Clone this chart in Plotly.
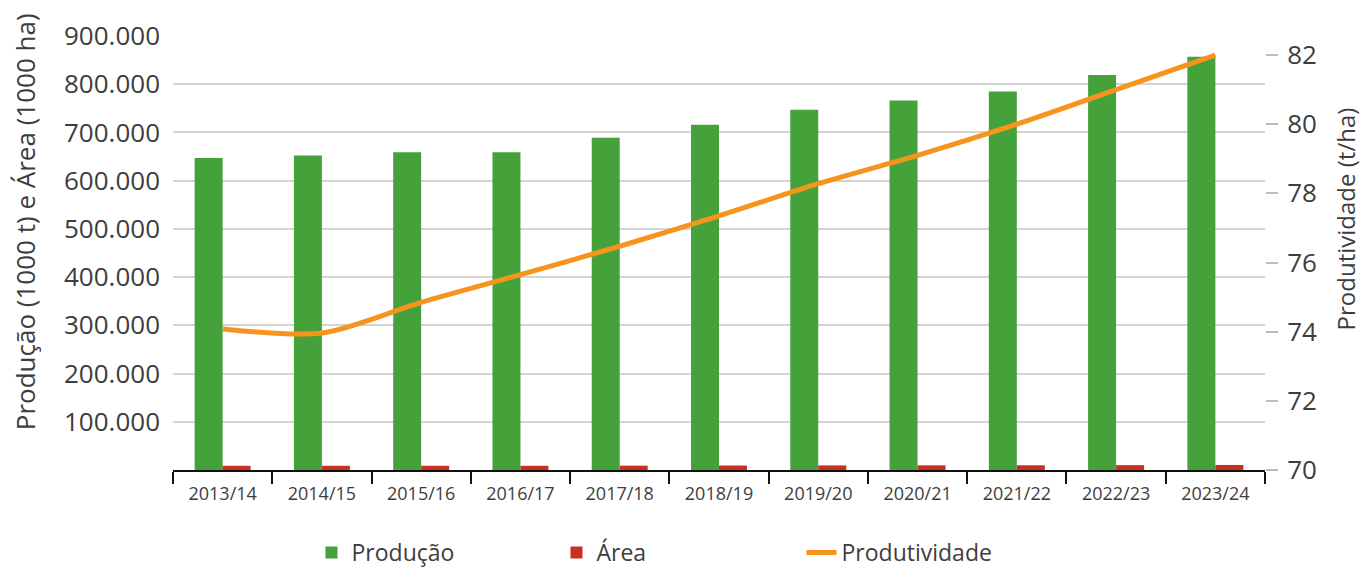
import plotly.graph_objects as go

# Safras
safras = ["2013/14", "2014/15", "2015/16", "2016/17", "2017/18", "2018/19",
          "2019/20", "2020/21", "2021/22", "2022/23", "2023/24"]

# Produção (1000 t)
producao = [647000, 652000, 659000, 659000, 689000, 716000,
            747000, 766000, 785000, 819000, 857000]

# Área (1000 ha)
area = [8730, 8820, 8800, 8710, 9010, 9260, 9540, 9680, 9810, 10110, 10450]

# Produtividade (t/ha)
produtividade = [74.08, 73.96, 74.85, 75.65, 76.47, 77.35,
                 78.28, 79.1, 80.0, 81.0, 82.0]

# Eixo esquerdo
ticks_esq = [100000, 200000, 300000, 400000, 500000, 600000, 700000, 800000, 900000]
# Eixo direito
ticks_dir = [70, 72, 74, 76, 78, 80, 82]

VERDE = "#45a23b"
VERMELHO = "#c8311f"
LARANJA = "#f7941d"
TEXTO = "#3d3d3d"
FONTE = "Open Sans"

fig = go.Figure()

fig.add_bar(x=safras, y=producao, name="Produção", marker_color=VERDE,
            marker_line_width=0, offsetgroup="producao")
fig.add_bar(x=safras, y=area, name="Área", marker_color=VERMELHO,
            marker_line_width=0, offsetgroup="area")
fig.add_scatter(x=safras, y=produtividade, name="Produtividade", yaxis="y2",
                mode="lines",
                line=dict(color=LARANJA, width=5, shape="spline", smoothing=0.8))

# Títulos dos eixos como anotações verticais
fig.add_annotation(text="Produção (1000 t) e Área (1000 ha)",
                   xref="paper", yref="paper", x=-0.1355, y=0.571,
                   xanchor="center", yanchor="middle", textangle=-90,
                   showarrow=False, font=dict(size=26, color=TEXTO, family=FONTE))
fig.add_annotation(text="Produtividade (t/ha)",
                   xref="paper", yref="paper", x=1.0735, y=0.578,
                   xanchor="center", yanchor="middle", textangle=-90,
                   showarrow=False, font=dict(size=24, color=TEXTO, family=FONTE))

fig.update_layout(
    width=1362,
    height=574,
    margin=dict(l=173, r=97, t=36, b=104),
    paper_bgcolor="white",
    plot_bgcolor="white",
    separators=",.",
    font=dict(family=FONTE, color=TEXTO),
    barmode="group",
    bargap=0.436,
    bargroupgap=0,
    showlegend=True,
    legend=dict(
        orientation="h",
        xref="container", yref="container",
        x=0.2287, y=0.0,
        xanchor="left", yanchor="bottom",
        entrywidth=200,
        font=dict(size=23, color=TEXTO, family=FONTE),
        bgcolor="rgba(0,0,0,0)",
    ),
    xaxis=dict(
        type="category",
        showline=True,
        linecolor="#111111",
        linewidth=2,
        ticks="outside",
        tickson="boundaries",
        ticklen=12,
        tickwidth=2,
        tickcolor="#111111",
        showgrid=False,
        ticklabelstandoff=6,
        tickfont=dict(size=18, color=TEXTO),
    ),
    yaxis=dict(
        range=[0, 900000],
        tickvals=ticks_esq,
        tickformat=",d",
        showgrid=True,
        gridcolor="#d4d4d4",
        gridwidth=2,
        zeroline=False,
        showline=False,
        ticks="",
        ticklabelstandoff=12,
        tickfont=dict(size=26, color=TEXTO),
    ),
    yaxis2=dict(
        overlaying="y",
        side="right",
        range=[70, 82.55],
        tickvals=ticks_dir,
        showgrid=False,
        zeroline=False,
        showline=False,
        ticks="outside",
        ticklen=12,
        tickwidth=2,
        tickcolor="#bdbdbd",
        ticklabelstandoff=4,
        tickfont=dict(size=26, color=TEXTO),
    ),
)

fig.write_html("out.html")
